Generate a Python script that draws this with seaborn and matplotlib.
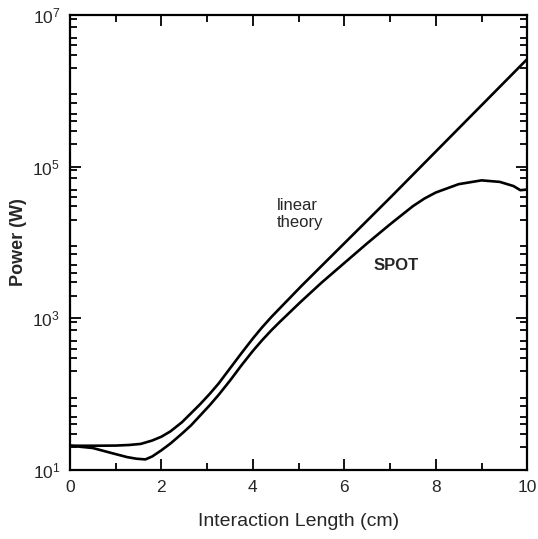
import numpy as np
import pandas as pd
import matplotlib
matplotlib.use("Agg")
import matplotlib.pyplot as plt
import seaborn as sns
from matplotlib.ticker import LogLocator, FixedLocator, NullFormatter

# ---- data ----
lin_x = [0.0, 0.5, 1.0, 1.3, 1.55, 1.8, 2.0, 2.2, 2.45, 2.65, 2.85, 3.05, 3.25, 3.5, 3.75,
         4.0, 4.2, 4.4, 4.6, 5.05, 5.5, 6.0, 7.0, 8.0, 9.0, 10.0]
lin_p = [20.9, 20.9, 21.0, 21.4, 22.1, 24.5, 27.5, 32.4, 42.7, 56.2, 74.1, 100, 138, 219,
         347, 543, 759, 1035, 1380, 2630, 4900, 9770, 38900, 158500, 646000, 2630000]

spot_x = [0.0, 0.5, 0.9, 1.25, 1.45, 1.65, 1.8, 2.0, 2.2, 2.45, 2.65, 2.85, 3.05, 3.25,
          3.5, 3.75, 4.0, 4.2, 4.4, 4.6, 5.05, 5.5, 6.0, 6.5, 7.0, 7.5, 7.75, 8.0, 8.5,
          9.0, 9.4, 9.7, 9.85, 10.0]
spot_p = [20.9, 19.5, 16.8, 14.8, 14.1, 13.8, 15.1, 18.2, 22.4, 30.2, 38.9, 52.5, 70.8,
          97.7, 151, 240, 372, 513, 692, 912, 1660, 2950, 5370, 9770, 17400, 30200,
          38000, 45700, 58900, 66100, 63100, 55600, 49000, 50100]

x_ticks = [0, 2, 4, 6, 8, 10]
y_ticks = [1e1, 1e3, 1e5, 1e7]
y_tick_labels = [r"$10^1$", r"$10^3$", r"$10^5$", r"$10^7$"]

df = pd.concat([
    pd.DataFrame({"x": lin_x, "P": lin_p, "curve": "linear theory"}),
    pd.DataFrame({"x": spot_x, "P": spot_p, "curve": "SPOT"}),
])

sns.set_style("ticks")
plt.rcParams["font.family"] = ["Liberation Sans", "DejaVu Sans"]
plt.rcParams["mathtext.fontset"] = "custom"
plt.rcParams["mathtext.rm"] = "Liberation Sans"
plt.rcParams["mathtext.it"] = "Liberation Sans"

fig = plt.figure(figsize=(5.38, 5.39), dpi=100)
ax = fig.add_axes([0.130, 0.128, 0.850, 0.844])

sns.lineplot(data=df, x="x", y="P", hue="curve", palette=["black", "black"],
             linewidth=1.9, legend=False, ax=ax, sort=False)
for ln in ax.lines:
    ln.set_solid_joinstyle("round")
    ln.set_solid_capstyle("round")

ax.set_yscale("log")
ax.set_xlim(0, 10)
ax.set_ylim(10, 1e7)

ax.set_xticks(x_ticks)
ax.set_xticklabels([str(t) for t in x_ticks])
ax.xaxis.set_minor_locator(FixedLocator([1, 3, 5, 7, 9]))
ax.set_yticks(y_ticks)
ax.set_yticklabels(y_tick_labels)
ax.yaxis.set_minor_locator(LogLocator(base=10, subs=(2, 3, 4, 5, 7, 9), numticks=20))
ax.yaxis.set_minor_formatter(NullFormatter())

ax.tick_params(which="both", direction="in", top=True, right=True, color="black",
               width=1.3)
ax.tick_params(which="major", length=8, labelsize=12.5, pad=7)
ax.tick_params(which="minor", length=5)
for s in ax.spines.values():
    s.set_linewidth(1.6)
    s.set_color("black")

ax.set_xlabel("Interaction Length (cm)", fontsize=14, labelpad=13)
ax.set_ylabel("Power (W)", fontsize=13, fontweight="bold", labelpad=4)

ax.text(4.53, 10**4.376, "linear\ntheory", fontsize=12, ha="left", va="center",
        linespacing=1.1)
ax.text(6.63, 10**3.70, "SPOT", fontsize=12, fontweight="bold", ha="left", va="center")

fig.savefig("out.png", dpi=100)
